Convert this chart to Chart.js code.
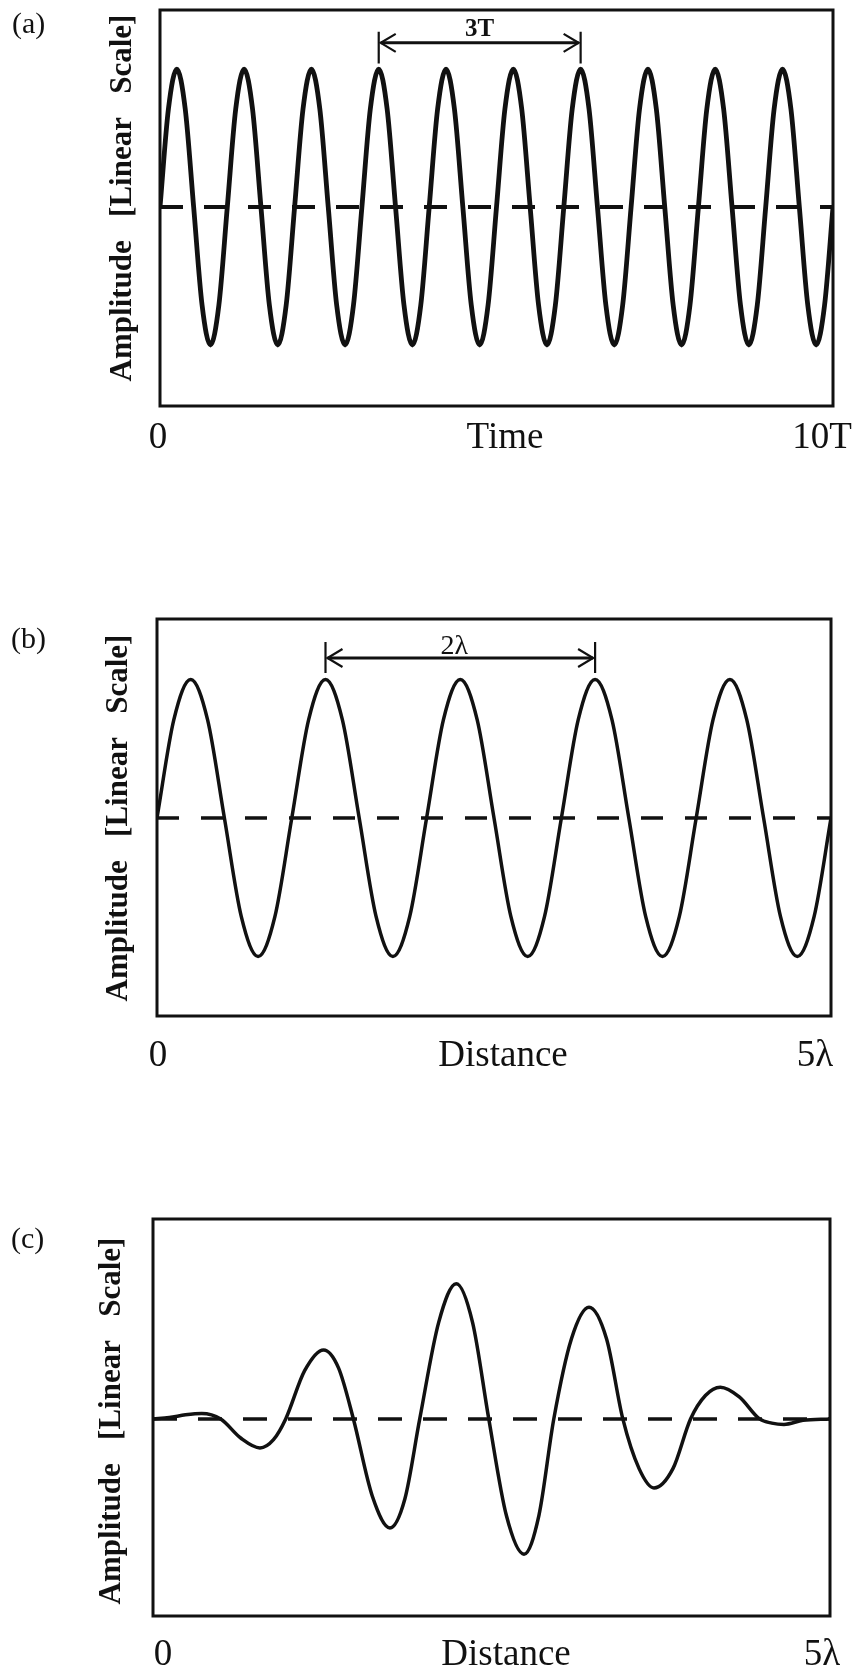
<!DOCTYPE html>
<html>
<head>
<meta charset="utf-8">
<title>Wave amplitude in time and distance</title>
<script src="https://cdn.jsdelivr.net/npm/chart.js@4.4.1/dist/chart.umd.min.js"></script>
<style>
  html, body { margin: 0; padding: 0; background: #ffffff; }
  #page { position: relative; width: 858px; height: 1672px; background: #ffffff; }
  #page canvas { position: absolute; left: 0; }
</style>
</head>
<body>
<div id="page">
  <canvas id="panelA" width="858" height="470" style="top:0px"></canvas>
  <canvas id="panelB" width="858" height="490" style="top:590px"></canvas>
  <canvas id="panelC" width="858" height="482" style="top:1190px"></canvas>
</div>
<script>
// ---- (a) amplitude against time, in periods T ----
const timeA = [
  0, 0.125, 0.25, 0.375, 0.5, 0.625, 0.75, 0.875,
  1, 1.125, 1.25, 1.375, 1.5, 1.625, 1.75, 1.875,
  2, 2.125, 2.25, 2.375, 2.5, 2.625, 2.75, 2.875,
  3, 3.125, 3.25, 3.375, 3.5, 3.625, 3.75, 3.875,
  4, 4.125, 4.25, 4.375, 4.5, 4.625, 4.75, 4.875,
  5, 5.125, 5.25, 5.375, 5.5, 5.625, 5.75, 5.875,
  6, 6.125, 6.25, 6.375, 6.5, 6.625, 6.75, 6.875,
  7, 7.125, 7.25, 7.375, 7.5, 7.625, 7.75, 7.875,
  8, 8.125, 8.25, 8.375, 8.5, 8.625, 8.75, 8.875,
  9, 9.125, 9.25, 9.375, 9.5, 9.625, 9.75, 9.875,
  10
];
const amplitudeA = [
  0, 0.71, 1, 0.71, 0, -0.71, -1, -0.71,
  0, 0.71, 1, 0.71, 0, -0.71, -1, -0.71,
  0, 0.71, 1, 0.71, 0, -0.71, -1, -0.71,
  0, 0.71, 1, 0.71, 0, -0.71, -1, -0.71,
  0, 0.71, 1, 0.71, 0, -0.71, -1, -0.71,
  0, 0.71, 1, 0.71, 0, -0.71, -1, -0.71,
  0, 0.71, 1, 0.71, 0, -0.71, -1, -0.71,
  0, 0.71, 1, 0.71, 0, -0.71, -1, -0.71,
  0, 0.71, 1, 0.71, 0, -0.71, -1, -0.71,
  0, 0.71, 1, 0.71, 0, -0.71, -1, -0.71,
  0
];
const tickValuesA = [0, 10];
const tickLabelsA = ['0', '10T'];
const spanA = [3.25, 6.25];
const spanLabelA = '3T';

// ---- (b) amplitude against distance, in wavelengths ----
const distanceB = [
  0, 0.125, 0.25, 0.375, 0.5, 0.625, 0.75, 0.875,
  1, 1.125, 1.25, 1.375, 1.5, 1.625, 1.75, 1.875,
  2, 2.125, 2.25, 2.375, 2.5, 2.625, 2.75, 2.875,
  3, 3.125, 3.25, 3.375, 3.5, 3.625, 3.75, 3.875,
  4, 4.125, 4.25, 4.375, 4.5, 4.625, 4.75, 4.875,
  5
];
const amplitudeB = [
  0, 0.71, 1, 0.71, 0, -0.71, -1, -0.71,
  0, 0.71, 1, 0.71, 0, -0.71, -1, -0.71,
  0, 0.71, 1, 0.71, 0, -0.71, -1, -0.71,
  0, 0.71, 1, 0.71, 0, -0.71, -1, -0.71,
  0, 0.71, 1, 0.71, 0, -0.71, -1, -0.71,
  0
];
const tickValuesB = [0, 5];
const tickLabelsB = ['0', '5\u03bb'];
const spanB = [1.25, 3.25];
const spanLabelB = '2\u03bb';

// ---- (c) wave packet against distance ----
const distanceC = [
  0, 0.12, 0.24, 0.36, 0.50, 0.65, 0.79, 0.89, 0.98,
  1.12, 1.26, 1.37, 1.48, 1.62, 1.75, 1.86, 1.97,
  2.11, 2.24, 2.36, 2.48, 2.61, 2.74, 2.85, 2.96,
  3.09, 3.22, 3.35, 3.47, 3.59, 3.70, 3.84, 3.97,
  4.08, 4.19, 4.33, 4.48, 4.57, 4.66, 4.80, 5.00
];
const amplitudeC = [
  0, 0.01, 0.03, 0.04, 0, -0.14, -0.21, -0.15, 0,
  0.35, 0.50, 0.37, 0, -0.56, -0.79, -0.58, 0,
  0.70, 0.98, 0.70, 0, -0.70, -0.98, -0.70, 0,
  0.58, 0.81, 0.58, 0, -0.36, -0.50, -0.36, 0,
  0.17, 0.23, 0.16, 0, -0.03, -0.04, -0.01, 0
];
const tickValuesC = [0, 5];
const tickLabelsC = ['0', '5\u03bb'];

const yTitle = 'Amplitude   [Linear   Scale]';

const INK = '#111111';
const SERIF = '"Liberation Serif", "Times New Roman", Times, serif';

// Frame, panel tag, axis text and the period span arrow
function makeDecor(cfg) {
  return {
    id: 'decor_' + cfg.tag,
    afterDatasetsDraw(chart) {
      const ctx = chart.ctx;
      const ca = chart.chartArea;
      const xs = chart.scales.x;
      const ys = chart.scales.y;
      ctx.save();
      ctx.strokeStyle = INK;
      ctx.fillStyle = INK;

      // plot frame
      ctx.lineWidth = cfg.frameWidth;
      ctx.strokeRect(ca.left, ca.top, ca.right - ca.left, ca.bottom - ca.top);

      // panel tag
      ctx.font = '30px ' + SERIF;
      ctx.textAlign = 'left';
      ctx.textBaseline = 'alphabetic';
      ctx.fillText(cfg.tag, cfg.tagX, cfg.tagY);

      // vertical axis title
      ctx.save();
      ctx.translate(cfg.yTitleX, cfg.yTitleY);
      ctx.rotate(-Math.PI / 2);
      ctx.font = 'bold 31px ' + SERIF;
      ctx.textAlign = 'center';
      ctx.fillText(yTitle, 0, 0);
      ctx.restore();

      // horizontal axis end labels and title
      ctx.font = '37px ' + SERIF;
      ctx.textAlign = 'center';
      cfg.tickValues.forEach((v, i) => {
        ctx.fillText(cfg.tickLabels[i], xs.getPixelForValue(v) + cfg.tickDx[i], cfg.labelY);
      });
      ctx.fillText(cfg.xTitle, cfg.xTitleX, cfg.labelY);

      // span arrow between two crests
      if (cfg.span) {
        const x1 = xs.getPixelForValue(cfg.span[0]);
        const x2 = xs.getPixelForValue(cfg.span[1]);
        const yA = ys.getPixelForValue(cfg.spanY);
        const yT = ys.getPixelForValue(cfg.spanTickTop);
        const yB = ys.getPixelForValue(cfg.spanTickBottom);
        ctx.lineCap = 'butt';
        ctx.lineWidth = 2.2;
        ctx.beginPath();
        ctx.moveTo(x1, yT); ctx.lineTo(x1, yB);
        ctx.moveTo(x2, yT); ctx.lineTo(x2, yB);
        ctx.stroke();
        ctx.lineWidth = 3;
        ctx.beginPath();
        ctx.moveTo(x1 + 2, yA); ctx.lineTo(x2 - 2, yA);
        ctx.stroke();
        ctx.lineWidth = 2.2;
        ctx.lineJoin = 'miter';
        ctx.beginPath();
        ctx.moveTo(x1 + 17, yA - 9); ctx.lineTo(x1 + 2, yA); ctx.lineTo(x1 + 17, yA + 9);
        ctx.moveTo(x2 - 17, yA - 9); ctx.lineTo(x2 - 2, yA); ctx.lineTo(x2 - 17, yA + 9);
        ctx.stroke();
        ctx.font = cfg.spanFont + SERIF;
        ctx.textAlign = 'center';
        ctx.fillText(cfg.spanLabel, (x1 + x2) / 2 + cfg.spanTextDx, ys.getPixelForValue(cfg.spanTextY));
      }
      ctx.restore();
    }
  };
}

function makePanel(id, xVals, yVals, xMax, yMin, yMax, padding, lineWidth, dashWidth, dash, decor) {
  return new Chart(document.getElementById(id), {
    type: 'line',
    data: {
      datasets: [
        {
          data: [{ x: 0, y: 0 }, { x: xMax, y: 0 }],
          borderColor: INK,
          borderWidth: dashWidth,
          borderDash: dash,
          borderCapStyle: 'butt',
          pointRadius: 0,
          tension: 0
        },
        {
          data: xVals.map((x, i) => ({ x: x, y: yVals[i] })),
          borderColor: INK,
          borderWidth: lineWidth,
          borderJoinStyle: 'round',
          pointRadius: 0,
          cubicInterpolationMode: 'monotone'
        }
      ]
    },
    options: {
      responsive: false,
      animation: false,
      devicePixelRatio: 1,
      events: [],
      layout: { padding: padding },
      plugins: { legend: { display: false }, tooltip: { enabled: false } },
      scales: {
        x: { type: 'linear', min: 0, max: xMax, display: false },
        y: { type: 'linear', min: yMin, max: yMax, display: false }
      }
    },
    plugins: [makeDecor(decor)]
  });
}

makePanel('panelA', timeA, amplitudeA, 10, -1.442, 1.428,
  { left: 160, right: 25, top: 10, bottom: 64 }, 4.8, 4, [23, 21],
  {
    tag: '(a)', tagX: 12, tagY: 33, frameWidth: 3,
    yTitleX: 131, yTitleY: 198,
    tickValues: tickValuesA, tickLabels: tickLabelsA, tickDx: [-2, -11],
    xTitle: 'Time', xTitleX: 505, labelY: 448,
    span: spanA, spanLabel: spanLabelA, spanFont: 'bold 25px ', spanTextDx: 0,
    spanY: 1.19, spanTickTop: 1.27, spanTickBottom: 1.04, spanTextY: 1.24
  });

makePanel('panelB', distanceB, amplitudeB, 5, -1.43, 1.437,
  { left: 157, right: 27, top: 29, bottom: 64 }, 3.5, 3.5, [22, 22],
  {
    tag: '(b)', tagX: 11, tagY: 58, frameWidth: 3,
    yTitleX: 127, yTitleY: 228,
    tickValues: tickValuesB, tickLabels: tickLabelsB, tickDx: [1, -16],
    xTitle: 'Distance', xTitleX: 503, labelY: 476,
    span: spanB, spanLabel: spanLabelB, spanFont: '28px ', spanTextDx: -6,
    spanY: 1.155, spanTickTop: 1.27, spanTickBottom: 1.047, spanTextY: 1.185
  });

makePanel('panelC', distanceC, amplitudeC, 5, -1.428, 1.449,
  { left: 153, right: 28, top: 29, bottom: 56 }, 3.5, 3.5, [24, 21],
  {
    tag: '(c)', tagX: 11, tagY: 58, frameWidth: 3,
    yTitleX: 120, yTitleY: 231,
    tickValues: tickValuesC, tickLabels: tickLabelsC, tickDx: [10, -8],
    xTitle: 'Distance', xTitleX: 506, labelY: 475,
    span: null
  });
</script>
</body>
</html>
